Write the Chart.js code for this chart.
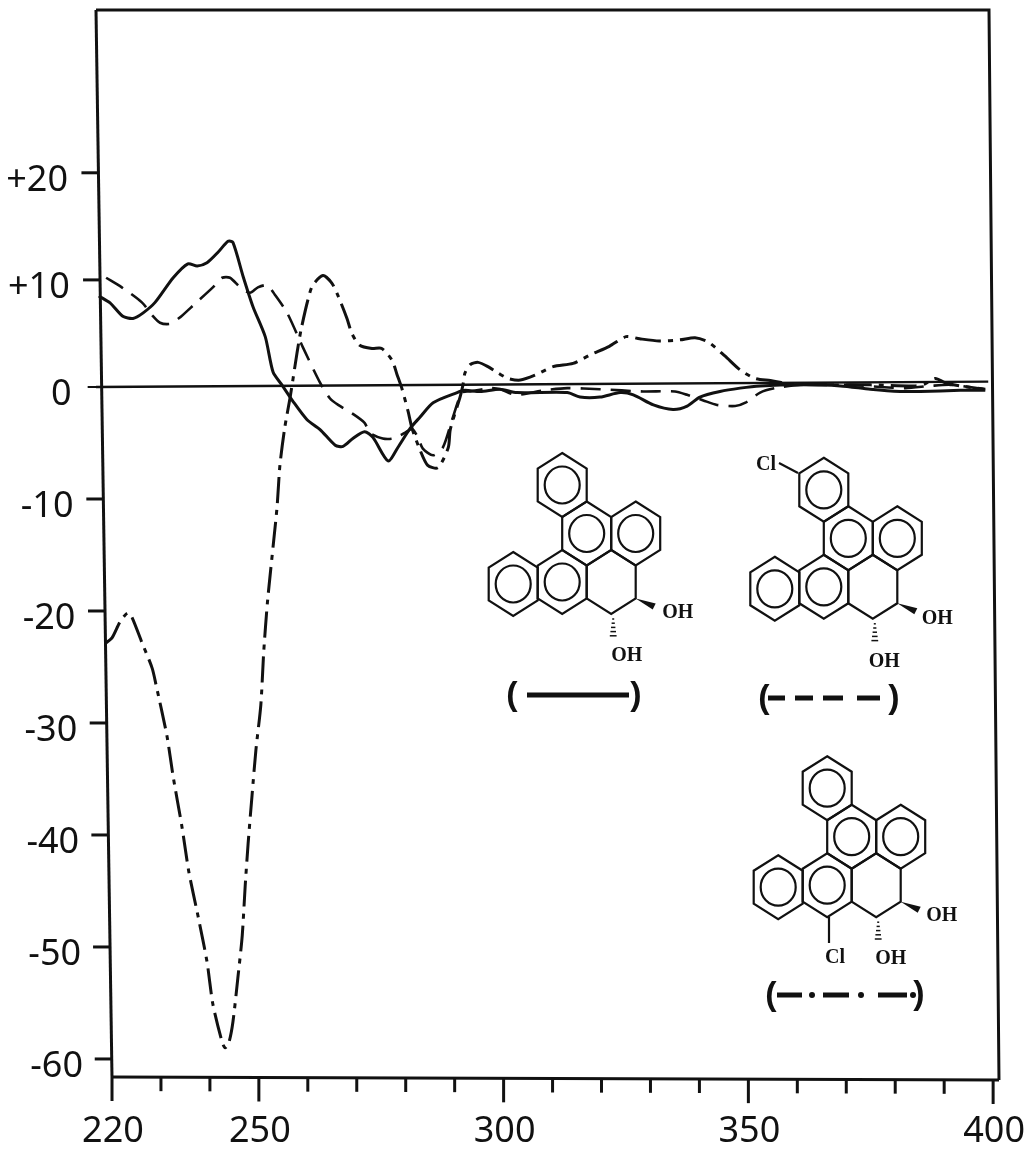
<!DOCTYPE html>
<html>
<head>
<meta charset="utf-8">
<style>html,body{margin:0;padding:0;background:#fff}canvas{display:block}</style>
<script src="https://cdn.jsdelivr.net/npm/chart.js@4/dist/chart.umd.min.js"></script>
</head>
<body>
<canvas id="c" width="1024" height="1156"></canvas>
<script>
const xTickValues = [220,230,240,250,260,270,280,290,300,310,320,330,340,350,360,370,380,390,400];
const xMajorLabels = [220,250,300,350,400];
const yTickValues = [20,10,0,-10,-20,-30,-40,-50,-60];

const baseNm = [216.7, 399.0];
const baseCd = [0, 0.5];

const solidNm = [217.3,219.6,222.2,224.3,226.3,228.8,232.5,235.5,237.4,239.4,241.7,243.7,244.7,246.8,248.8,251.3,252.9,254.7,257.0,259.8,262.5,265.6,267.2,269.2,271.6,273.3,276.4,278.4,280.9,282.9,285.6,290.5,292.1,295.2,299.3,302.7,313.0,315.6,319.7,323.8,326.5,330.6,334.6,337.5,340.1,344.2,348.3,352.4,360.6,368.8,374.9,381.0,385.1,393.3,398.4];
const solidCd = [8.5,7.85,6.6,6.4,6.9,7.9,10.2,11.5,11.3,11.6,12.6,13.6,13.5,10.3,7.5,4.7,1.4,0.2,-1.3,-2.9,-3.8,-5.2,-5.3,-4.6,-4.0,-4.5,-6.6,-5.4,-3.7,-2.7,-1.4,-0.5,-0.3,-0.4,-0.2,-0.5,-0.5,-0.9,-0.9,-0.5,-0.7,-1.6,-2.0,-1.7,-0.9,-0.4,-0.1,0.1,0.2,0.1,-0.2,-0.4,-0.4,-0.3,-0.3];

const dashedNm = [218.8,222.0,226.1,228.2,229.8,231.9,233.9,236.3,240.6,242.5,244.1,246.2,248.2,249.8,251.7,253.3,255.8,259.0,262.5,264.5,266.2,269.2,271.6,272.7,275.3,277.4,279.8,281.3,282.5,283.5,285.6,287.6,289.5,291.5,293.2,297.2,299.3,302.4,308.1,313.0,319.7,328.5,335.0,337.5,340.8,343.6,347.3,349.4,352.4,355.5,360.6,370.8,376.9,382.1,387.2,391.3,398.4];
const dashedCd = [10.2,9.3,7.9,6.7,6.0,5.9,6.5,7.5,9.3,10.2,10.2,9.3,8.8,9.3,9.5,8.6,6.9,3.7,0.4,-1.0,-1.6,-2.4,-3.2,-4.1,-4.6,-4.6,-4.1,-3.75,-4.5,-5.5,-6.1,-5.4,-2.9,-0.5,-0.4,-0.1,-0.2,-0.7,-0.3,-0.1,-0.2,-0.4,-0.4,-0.7,-1.2,-1.6,-1.7,-1.4,-0.5,-0.1,0.2,0.2,0,-0.1,0.1,0.2,-0.2];

const dashDotNm = [218.6,220.0,221.6,223.1,223.9,226.1,228.2,229.0,231.2,232.5,234.3,235.7,237.6,239.4,240.6,242.5,243.1,243.9,244.7,245.7,246.6,247.2,247.8,248.6,249.4,250.4,251.0,251.8,253.7,254.3,255.3,256.4,257.8,258.6,260.0,261.0,263.1,264.9,266.1,268.0,269.0,270.6,273.1,275.1,277.2,278.2,279.2,280.5,281.3,282.9,284.5,286.6,288.7,289.1,291.1,291.7,292.1,293.2,294.8,296.8,298.9,300.9,303.4,306.4,310.1,314.2,317.7,321.6,325.0,327.8,331.8,336.0,339.1,341.8,345.2,348.3,351.4,354.5,358.6,366.8,374.9,384.1,386.1,388.2,390.2,393.3,398.4];
const dashDotCd = [-22.9,-22.4,-21.0,-20.2,-20.4,-22.8,-25.1,-26.6,-31.1,-34.8,-39.3,-43.3,-47.3,-51.3,-55.1,-58.5,-59.0,-58.5,-56.7,-52.8,-49.0,-44.6,-40.8,-36.5,-32.4,-28.4,-23.6,-19.0,-10.8,-7.0,-3.6,-0.9,3.2,5.3,8.1,9.5,10.4,9.7,8.6,6.4,5.0,3.9,3.6,3.6,2.5,1.2,-0.1,-2.2,-3.7,-5.6,-7.0,-7.2,-5.4,-3.8,-0.9,0.2,1.3,2.1,2.3,1.9,1.3,0.8,0.65,1.1,1.9,2.2,3.0,3.8,4.7,4.5,4.3,4.4,4.6,4.2,2.9,1.6,0.8,0.6,0.3,0.2,0.2,0.1,0.3,0.8,0.4,0.1,-0.2];

const INK = '#111';
const AREA = {left:96, top:10, right:999, bottom:1078};
const zip = (xs, ys) => xs.map((x, i) => ({x, y: ys[i]}));

// The scan's y axis has a slightly different scale above and below zero.
class TwoSlopeScale extends Chart.LinearScale {
  getPixelForValue(v) {
    const frac = this.options.zeroFraction, h = this.bottom - this.top;
    const zero = this.top + frac * h;
    return v >= 0 ? zero - (v / this.max) * frac * h
                  : zero + (v / this.min) * (1 - frac) * h;
  }
}
TwoSlopeScale.id = 'twoSlope';
TwoSlopeScale.defaults = Chart.LinearScale.defaults;
Chart.register(TwoSlopeScale);

const leftEdge = py => 96 + (py - 10) * 16 / 1067;
const bottomEdge = px => 1077 + (px - 112) * 3 / 887;

function stroke(ctx, pts, w) {
  ctx.beginPath();
  pts.forEach((p, i) => i ? ctx.lineTo(p[0], p[1]) : ctx.moveTo(p[0], p[1]));
  ctx.lineWidth = w;
  ctx.stroke();
}

const RW = 24.5, RS = 16.5, RA = 32, ROW = 48.5;
function ring(ctx, cx, cy, circle) {
  ctx.lineWidth = 2.2;
  ctx.beginPath();
  [[0,-RA],[RW,-RS],[RW,RS],[0,RA],[-RW,RS],[-RW,-RS]].forEach((p, i) => {
    i ? ctx.lineTo(cx + p[0], cy + p[1]) : ctx.moveTo(cx + p[0], cy + p[1]);
  });
  ctx.closePath();
  ctx.stroke();
  if (circle) {
    ctx.beginPath();
    ctx.ellipse(cx, cy, 17.5, 18.5, 0, 0, Math.PI * 2);
    ctx.stroke();
  }
}
function molecule(ctx, bx, by, offR, offB) {
  const st = 2 * RW;
  ring(ctx, bx - st / 2, by - ROW, true);
  ring(ctx, bx, by, true);
  ring(ctx, bx + st, by, true);
  ring(ctx, bx - st / 2, by + ROW, true);
  ring(ctx, bx - 3 * st / 2, by + ROW + 2, true);
  ring(ctx, bx + st / 2, by + ROW, false);
  // wedge
  const vx = bx + st, vy = by + ROW + RS;
  ctx.beginPath();
  ctx.moveTo(vx, vy);
  ctx.lineTo(vx + 20, vy + 5);
  ctx.lineTo(vx + 17, vy + 11);
  ctx.closePath();
  ctx.fill();
  // hashed bond
  const hx = bx + st / 2 + 2, hy = by + ROW + RA + 5;
  for (let i = 0; i < 5; i++) {
    const w = 1 + i * 0.6;
    stroke(ctx, [[hx - w, hy + i * 4.2], [hx + w, hy + i * 4.2]], 1.5);
  }
  ctx.font = 'bold 20px "Liberation Serif"';
  ctx.textAlign = 'center';
  ctx.textBaseline = 'middle';
  ctx.fillText('OH', bx + offR[0], by + offR[1]);
  ctx.fillText('OH', bx + offB[0], by + offB[1]);
}
function paren(ctx, ch, x, y) {
  ctx.font = 'bold 34px "Liberation Sans"';
  ctx.textAlign = 'center';
  ctx.textBaseline = 'middle';
  ctx.fillText(ch, x, y);
}

const reference = {
  id: 'reference',
  beforeDraw(chart) {
    const ys = chart.scales.y, xs = chart.scales.x;
    ys.getLabelItems(chart.chartArea).forEach((it, i) => {
      const py = ys.getPixelForValue(yTickValues[i]);
      it.options.translation = [68 + (py - 173) * 15 / 887, py + 8];
    });
    xs.getLabelItems(chart.chartArea).forEach(it => {
      it.options.translation = [it.options.translation[0] + 1, 1110];
    });
  },
  afterDatasetsDraw(chart) {
    const ctx = chart.ctx, xs = chart.scales.x, ys = chart.scales.y;
    ctx.save();
    ctx.strokeStyle = INK;
    ctx.fillStyle = INK;
    ctx.lineCap = 'butt';
    // skewed frame of the scan
    stroke(ctx, [[96, 10], [989, 10], [999, 1080]], 3);
    stroke(ctx, [[96, 10], [112, 1077]], 3);
    stroke(ctx, [[112, 1077], [999, 1080]], 3);
    // axis ticks
    yTickValues.forEach(v => {
      const py = ys.getPixelForValue(v), lx = leftEdge(py);
      stroke(ctx, [[lx - (v === 0 ? 14 : 17), py], [lx, py]], v === 0 ? 2 : 3);
    });
    xTickValues.forEach(v => {
      const px = xs.getPixelForValue(v), by = bottomEdge(px);
      stroke(ctx, [[px, by], [px, by + (xMajorLabels.includes(v) ? 24 : 14)]], 3);
    });
    // structures
    molecule(ctx, 586.7, 533.5, [91, 79], [40, 122]);
    molecule(ctx, 848.3, 538.3, [89, 81], [36, 124]);
    molecule(ctx, 851.7, 836.7, [90, 79], [39, 122]);
    ctx.strokeStyle = INK; ctx.fillStyle = INK;
    ctx.font = 'bold 20px "Liberation Serif"';
    ctx.fillText('Cl', 766, 465);
    stroke(ctx, [[779, 463], [798, 473]], 2.2);
    ctx.fillText('Cl', 835, 958);
    stroke(ctx, [[829, 917], [829, 943]], 2.2);
    // key to the line styles
    paren(ctx, '(', 512, 696);
    stroke(ctx, [[527, 695], [629, 695]], 5);
    paren(ctx, ')', 636, 696);
    paren(ctx, '(', 764, 699);
    [[768,785],[795,813],[823,843],[857,880]].forEach(d => stroke(ctx, [[d[0],698],[d[1],698]], 5));
    paren(ctx, ')', 894, 699);
    paren(ctx, '(', 771, 996);
    [[777,802],[823,849],[878,907]].forEach(d => stroke(ctx, [[d[0],995],[d[1],995]], 5));
    [812,861,913].forEach(x => { ctx.beginPath(); ctx.arc(x, 995, 3, 0, Math.PI * 2); ctx.fill(); });
    paren(ctx, ')', 919, 995);
    ctx.restore();
  }
};

const line = (label, xs, ys, width, dash) => ({
  label, data: zip(xs, ys), borderColor: INK, borderWidth: width,
  borderDash: dash, pointRadius: 0, tension: 0.25, fill: false
});

new Chart(document.getElementById('c'), {
  type: 'line',
  data: {
    datasets: [
      line('baseline', baseNm, baseCd, 2.4, []),
      line('solid', solidNm, solidCd, 3, []),
      line('dashed', dashedNm, dashedCd, 2.6, [20, 10]),
      line('dash-dot', dashDotNm, dashDotCd, 3, [26, 7, 5, 7])
    ]
  },
  options: {
    responsive: false,
    animation: false,
    events: [],
    layout: {padding: {top: AREA.top, left: 0, right: 1024 - AREA.right, bottom: 0}},
    plugins: {legend: {display: false}, tooltip: {enabled: false}, title: {display: false}},
    scales: {
      x: {
        type: 'linear', min: 216.73, max: 401.2,
        grid: {display: false}, border: {display: false},
        afterBuildTicks: s => { s.ticks = xTickValues.map(value => ({value})); },
        afterFit: s => { s.height = 1156 - AREA.bottom; s.paddingLeft = 0; s.paddingRight = 0; },
        ticks: {
          autoSkip: false, maxRotation: 0, minRotation: 0, color: INK,
          font: {family: '"Noto Sans"', size: 36},
          callback: v => xMajorLabels.includes(v) ? String(v) : ''
        }
      },
      y: {
        type: 'twoSlope', min: -61.7, max: 35.2, zeroFraction: 377 / 1068,
        grid: {display: false}, border: {display: false},
        afterBuildTicks: s => { s.ticks = yTickValues.map(value => ({value})); },
        afterFit: s => { s.width = AREA.left; s.paddingTop = 0; s.paddingBottom = 0; },
        ticks: {
          autoSkip: false, color: INK,
          font: {family: '"Noto Sans"', size: 36},
          callback: v => v > 0 ? '+' + v : String(v)
        }
      }
    }
  },
  plugins: [reference]
});
</script>
</body>
</html>
